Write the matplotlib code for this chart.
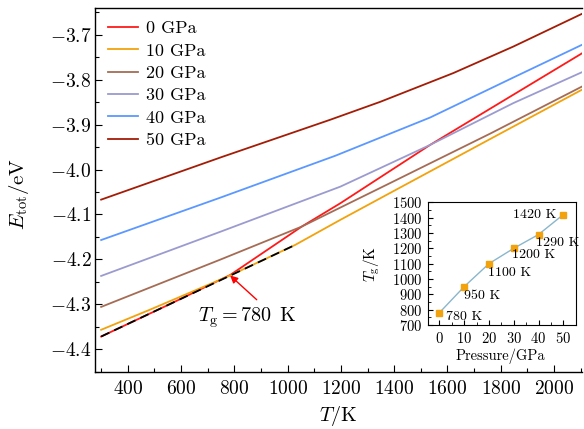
import matplotlib
matplotlib.use("Agg")
import matplotlib.pyplot as plt
from matplotlib.ticker import MultipleLocator

plt.rcParams['font.family'] = ['cmr10', 'DejaVu Serif']
plt.rcParams['mathtext.fontset'] = 'cm'
plt.rcParams['axes.formatter.use_mathtext'] = True
plt.rcParams['axes.unicode_minus'] = True

# ---- data ----
labels = ['0 GPa', '10 GPa', '20 GPa', '30 GPa', '40 GPa', '50 GPa']
colors = ['#ff1a1a', '#f2a20c', '#a56c55', '#9b9bd0', '#5b98ff', '#a31c06']

T_0 = [300, 550, 784, 1053, 1198, 1535, 2105]
E_0 = [-4.372, -4.302, -4.235, -4.127, -4.075, -3.945, -3.741]
T_10 = [300, 484, 784, 1028, 1198, 1385, 1760, 2105]
E_10 = [-4.357, -4.312, -4.236, -4.168, -4.112, -4.052, -3.932, -3.822]
T_20 = [300, 750, 1053, 1385, 1760, 2105]
E_20 = [-4.306, -4.200, -4.127, -4.030, -3.920, -3.815]
T_30 = [300, 750, 1198, 1535, 1847, 2105]
E_30 = [-4.237, -4.138, -4.038, -3.945, -3.852, -3.783]
T_40 = [300, 750, 1180, 1535, 1847, 2105]
E_40 = [-4.157, -4.062, -3.969, -3.884, -3.795, -3.722]
T_50 = [300, 753, 1160, 1348, 1622, 1847, 2105]
E_50 = [-4.067, -3.972, -3.889, -3.849, -3.785, -3.726, -3.653]

fit_T = [300, 1028]
fit_E = [-4.372, -4.168]

Tg_T, Tg_E = 784, -4.236

P = [0, 10, 20, 30, 40, 50]
Tg = [780, 950, 1100, 1200, 1290, 1420]
Tg_text = ['780 K', '950 K', '1100 K', '1200 K', '1290 K', '1420 K']

series_T = [T_0, T_10, T_20, T_30, T_40, T_50]
series_E = [E_0, E_10, E_20, E_30, E_40, E_50]

# ---- figure ----
fig = plt.figure(figsize=(5.84, 4.29), dpi=100)
ax = fig.add_axes([0.1627, 0.1329, 0.9966 - 0.1627, 0.9814 - 0.1329])

for T, E, lab, c in zip(series_T, series_E, labels, colors):
    ax.plot(T, E, color=c, lw=1.3, label=lab)
ax.plot(fit_T, fit_E, color='black', lw=1.3, ls=(0, (5, 3)))

ax.set_xlim(277, 2105)
ax.set_ylim(-4.451, -3.640)
ax.xaxis.set_major_locator(MultipleLocator(200))
ax.xaxis.set_minor_locator(MultipleLocator(100))
ax.yaxis.set_major_locator(MultipleLocator(0.1))
ax.yaxis.set_minor_locator(MultipleLocator(0.05))
ax.tick_params(which='both', direction='in', top=False, right=False, labelsize=14)
ax.tick_params(axis='x', pad=5.5)
ax.tick_params(axis='y', pad=2.5)
ax.tick_params(which='major', length=5, width=0.8)
ax.tick_params(which='minor', length=3, width=0.8)
ax.spines['right'].set_visible(False)
for s in ['left', 'bottom', 'top']:
    ax.spines[s].set_linewidth(1.0)
ax.set_xlabel(r'$T$/K', fontsize=14.5)
ax.set_ylabel(r'$E_{\rm tot}$/eV', fontsize=15)
ax.xaxis.set_label_coords(0.5, -0.088)
ax.yaxis.set_label_coords(-0.132, 0.49)

leg = ax.legend(loc='upper left', frameon=False, fontsize=13,
                handlelength=1.7, handletextpad=0.45, labelspacing=0.37,
                borderaxespad=0.3, bbox_to_anchor=(0.0, 1.0))

ax.annotate('', xy=(Tg_T, Tg_E), xytext=(884, -4.290),
            arrowprops=dict(arrowstyle='-|>', color='red', lw=1.0,
                            mutation_scale=11, shrinkA=0, shrinkB=0))
ax.text(848, -4.330, r'$T_{\rm g} = 780\ \,$K', fontsize=14.5,
        ha='center', va='center')

# ---- inset ----
ins = fig.add_axes([0.7324, 0.2424, 0.2534, 0.2860])
ins.plot(P, Tg, color='#8ab6cc', lw=1.0, zorder=1)
ins.plot(P, Tg, ls='none', marker='s', ms=4.5, color='#f2a20c', zorder=2)
ins.set_xlim(-4.7, 55)
ins.set_ylim(700, 1500)
ins.xaxis.set_major_locator(MultipleLocator(10))
ins.xaxis.set_minor_locator(MultipleLocator(5))
ins.yaxis.set_major_locator(MultipleLocator(100))
ins.yaxis.set_minor_locator(MultipleLocator(50))
ins.tick_params(which='both', direction='in', labelsize=10.5, pad=4)
ins.tick_params(which='major', length=3.5)
ins.tick_params(which='minor', length=2)
ins.set_xlabel('Pressure/GPa', fontsize=10.5)
ins.set_ylabel(r'$T_{\rm g}$/K', fontsize=11)
ins.xaxis.set_label_coords(0.49, -0.19)
ins.yaxis.set_label_coords(-0.31, 0.5)

offsets = [(5, -3, 'left', 'center'), (0, -7, 'left', 'center'),
           (-1, -7, 'left', 'center'), (-1, -5, 'left', 'center'),
           (-2, -6, 'left', 'center'), (-5, 0, 'right', 'center')]
for p, t, s, (dx, dy, ha, va) in zip(P, Tg, Tg_text, offsets):
    ins.annotate(s, xy=(p, t), xytext=(dx, dy), textcoords='offset points',
                 fontsize=10, ha=ha, va=va)

fig.savefig('out.png', dpi=100)
